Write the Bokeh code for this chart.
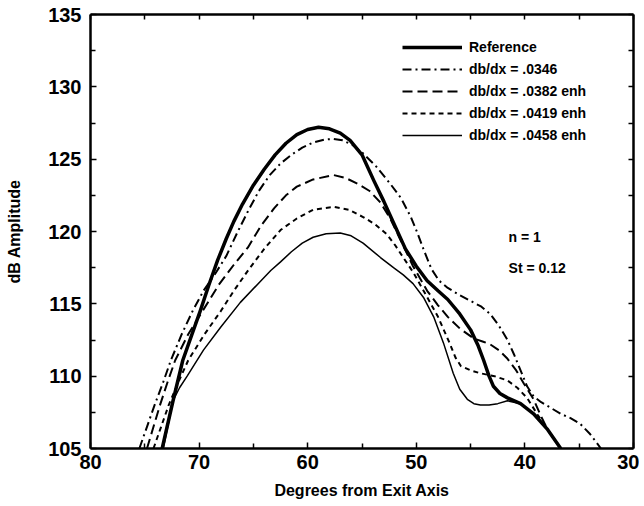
from bokeh.plotting import figure
from bokeh.models import Range1d, LinearAxis, FixedTicker, Legend, LegendItem
from bokeh.core.properties import value
from bokeh.embed import file_html
from bokeh.resources import INLINE

# ---- data ----
x_major = [80, 70, 60, 50, 40, 30]
x_minor = [75, 65, 55, 45, 35]
y_major = [105, 110, 115, 120, 125, 130, 135]
y_minor = [107.5, 112.5, 117.5, 122.5, 127.5, 132.5]

ref_x = [73.4, 72.4, 71.5, 70.7, 69.9, 69.1, 68.3, 67.5, 66.8, 66.0, 65.0, 64.0, 63.0, 62.0, 61.0, 60.0,
         59.0, 58.0, 57.0, 56.1, 55.0, 53.9, 53.0, 52.1, 51.0, 50.0, 49.0, 48.0, 47.1, 46.0, 45.0,
         44.3, 43.8, 43.3, 42.9, 42.3, 41.6, 40.4, 39.2, 37.9, 36.7]
ref_y = [105.0, 108.3, 111.1, 112.8, 114.5, 116.3, 118.0, 119.5, 120.7, 121.9, 123.2, 124.3, 125.3, 126.1,
         126.7, 127.05, 127.2, 127.1, 126.8, 126.3, 125.3, 123.5, 122.1, 120.6, 118.8, 117.6, 116.6,
         115.9, 115.3, 114.3, 113.2, 112.1, 111.1, 110.0, 109.3, 108.8, 108.5, 108.1, 107.4, 106.3, 105.0]

a_x = [75.5, 74.8, 74.1, 73.3, 72.6, 71.6, 70.6, 69.6, 68.5, 67.5, 66.5, 65.5, 64.5, 63.5, 62.5, 61.5,
       60.5, 59.5, 58.5, 57.6, 56.8, 55.9, 54.9, 53.7, 52.4, 51.4, 50.5, 49.9, 49.3, 48.6, 47.9, 47.1,
       46.0, 45.0, 44.0, 43.2, 42.4, 41.6, 41.0, 40.4, 39.8, 39.2, 38.5, 37.6, 36.7, 35.8, 34.9, 34.0, 33.0]
a_y = [105.0, 106.5, 108.0, 109.6, 111.1, 112.9, 114.5, 115.9, 117.1, 118.3, 119.9, 121.4, 122.8, 123.9,
       124.7, 125.3, 125.8, 126.15, 126.35, 126.4, 126.3, 126.0, 125.4, 124.5, 123.3, 122.3, 121.0,
       119.9, 118.7, 117.4, 116.6, 116.1, 115.6, 115.2, 114.8, 114.3, 113.5, 112.5, 111.5, 110.4, 109.3,
       108.6, 108.2, 107.8, 107.4, 107.1, 106.7, 106.0, 105.0]

b_x = [74.8, 74.2, 73.6, 72.9, 72.2, 71.0, 69.6, 68.2, 66.8, 65.5, 64.3, 63.1, 62.0, 61.0, 59.5, 57.6,
       56.5, 55.4, 54.3, 53.3, 52.4, 51.5, 50.3, 49.0, 48.0, 47.1, 46.0, 44.7, 43.9, 43.2, 42.4, 41.6,
       40.8, 40.1, 39.2, 38.5, 37.9, 36.7]
b_y = [105.0, 106.5, 108.0, 109.6, 111.1, 112.9, 114.6, 116.3, 117.7, 118.9, 120.4, 121.6, 122.5, 123.1,
       123.6, 123.9, 123.7, 123.3, 122.8, 122.0, 120.9, 119.5, 117.6, 115.9, 114.9, 114.1, 113.3, 112.6,
       112.4, 112.2, 111.8, 111.2, 110.4, 109.5, 108.4, 107.2, 106.3, 105.0]

c_x = [74.2, 73.5, 72.8, 71.9, 71.0, 69.5, 68.0, 66.8, 65.5, 64.0, 62.5, 61.0, 59.5, 57.6, 56.2, 54.9,
       53.8, 52.7, 51.9, 51.2, 50.3, 49.1, 48.0, 47.0, 46.4, 45.9, 45.0, 44.1, 42.8, 41.6, 40.7, 39.8,
       38.8, 37.9, 36.7]
c_y = [105.0, 106.5, 108.0, 109.6, 111.1, 112.9, 114.5, 115.9, 117.3, 118.8, 120.1, 120.9, 121.5, 121.7,
       121.5, 121.0, 120.5, 119.8, 119.0, 118.2, 117.2, 115.6, 114.1, 112.4, 111.3, 110.7, 110.4, 110.2,
       110.0, 109.7, 109.2, 108.5, 107.3, 106.3, 105.0]

d_x = [73.3, 72.4, 71.8, 71.1, 69.6, 68.0, 66.2, 64.3, 63.4, 62.5, 61.5, 60.5, 59.5, 58.3, 57.0, 56.0,
       54.9, 53.3, 52.1, 51.2, 50.3, 49.3, 48.4, 47.5, 46.6, 46.0, 45.3, 44.7, 44.1, 43.3, 42.5, 41.6,
       40.4, 39.2, 37.9, 36.7]
d_y = [105.0, 108.3, 109.2, 110.0, 111.8, 113.4, 115.1, 116.6, 117.3, 117.9, 118.6, 119.2, 119.6, 119.85,
       119.9, 119.7, 119.2, 118.2, 117.5, 117.0, 116.4, 115.4, 114.1, 112.3, 110.2, 109.1, 108.4, 108.1,
       108.0, 108.0, 108.1, 108.3, 108.1, 107.4, 106.3, 105.0]

labels = ["Reference", "db/dx = .0346", "db/dx = .0382 enh", "db/dx = .0419 enh", "db/dx = .0458 enh"]
notes = ["n = 1", "St = 0.12"]
note_x = [41.5, 41.5]
note_y = [119.6, 117.45]

FONT = "Liberation Sans"

p = figure(frame_width=543, frame_height=434, output_backend="svg", toolbar_location=None,
           x_range=Range1d(80, 30), y_range=Range1d(105, 135),
           min_border_left=90, min_border_right=6, min_border_top=14, min_border_bottom=10)
p.background_fill_color = "white"
p.border_fill_color = "white"
p.outline_line_color = None
p.xgrid.visible = False
p.ygrid.visible = False
p.xaxis.visible = False
p.yaxis.visible = False

def style_axis(ax):
    ax.axis_line_width = 2.5
    ax.axis_line_color = "black"
    ax.major_tick_in = 6
    ax.major_tick_out = 0
    ax.minor_tick_in = 5
    ax.minor_tick_out = 0
    ax.major_tick_line_width = 1.5
    ax.minor_tick_line_width = 1.5
    return ax

def labelled(ax):
    ax.major_label_text_font = FONT
    ax.major_label_text_font_style = "bold"
    ax.major_label_text_font_size = "20px"
    ax.major_label_text_color = "black"
    ax.axis_label_text_font = FONT
    ax.axis_label_text_font_style = "bold"
    ax.axis_label_text_font_size = "16px"
    ax.axis_label_text_color = "black"
    return ax

xb = labelled(style_axis(LinearAxis(ticker=FixedTicker(ticks=x_major, minor_ticks=x_minor))))
xb.axis_label = "Degrees from Exit Axis"
xb.major_label_standoff = 6
xb.axis_label_standoff = 10
yl = labelled(style_axis(LinearAxis(ticker=FixedTicker(ticks=y_major, minor_ticks=y_minor))))
yl.axis_label = "dB Amplitude"
yl.major_label_standoff = 9
yl.axis_label_standoff = 22
p.add_layout(xb, "below")
p.add_layout(yl, "left")

xt = style_axis(LinearAxis(ticker=FixedTicker(ticks=[], minor_ticks=x_major + x_minor)))
yr = style_axis(LinearAxis(ticker=FixedTicker(ticks=[], minor_ticks=y_major + y_minor)))
p.add_layout(xt, "above")
p.add_layout(yr, "right")

r0 = p.line(ref_x, ref_y, line_color="black", line_width=3.5, line_join="round")
r1 = p.line(a_x, a_y, line_color="black", line_width=2, line_dash="9 4 2 4", line_join="round")
r2 = p.line(b_x, b_y, line_color="black", line_width=2, line_dash="10 5", line_join="round")
r3 = p.line(c_x, c_y, line_color="black", line_width=2, line_dash="5 4", line_join="round")
r4 = p.line(d_x, d_y, line_color="black", line_width=1.5, line_join="round")

legend = Legend(items=[LegendItem(label=labels[i], renderers=[r]) for i, r in enumerate([r0, r1, r2, r3, r4])],
                location=(312, 303), orientation="vertical")
legend.border_line_color = None
legend.background_fill_alpha = 0
legend.padding = 0
legend.margin = 0
legend.spacing = 2
legend.glyph_width = 60
legend.glyph_height = 20
legend.label_height = 20
legend.label_standoff = 7
legend.label_text_font = FONT
legend.label_text_font_style = "bold"
legend.label_text_font_size = "14px"
legend.label_text_color = "black"
p.add_layout(legend, "center")

p.text(x=note_x, y=note_y, text=notes, text_font=value(FONT), text_font_style="bold",
       text_font_size="14px", text_align="left", text_baseline="middle", text_color="black")

open("out.html", "w").write(file_html(p, INLINE))
